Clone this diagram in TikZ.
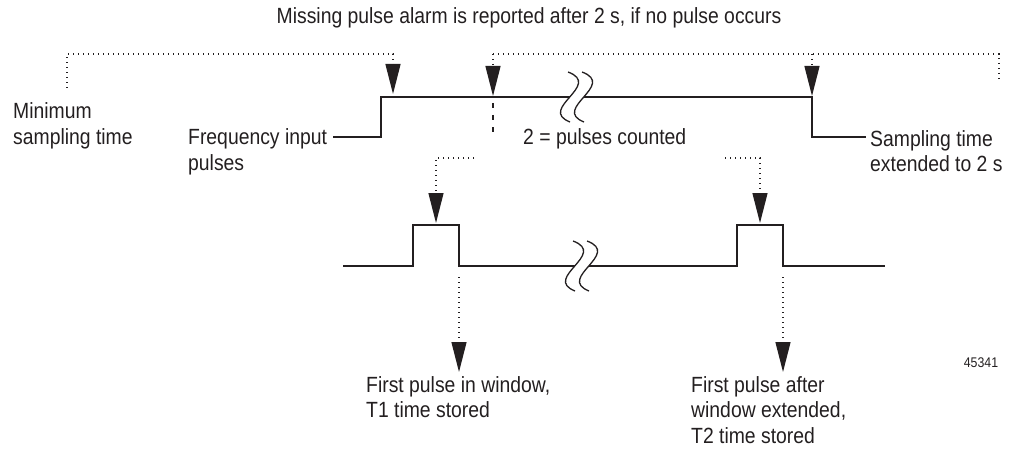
\documentclass[tikz,border=0pt]{standalone}
\usepackage{fontspec}
\setmainfont{Liberation Sans}[FakeStretch=0.88]
\usetikzlibrary{positioning, arrows.meta}
\definecolor{inkgray}{RGB}{35,31,32}

\begin{document}
\begin{tikzpicture}[
  x=1pt, y=-1pt,
  lbl/.style={inner sep=0pt, align=left, anchor=west, text=inkgray,
              font=\fontsize{22}{25.5}\selectfont},
  wave/.style={line width=1.5pt, draw=inkgray},
  hint/.style={line width=1.3pt, draw=inkgray, dash pattern=on 1.3pt off 3.7pt},
  ptr/.style={hint, -{Triangle[length=30pt, width=15pt, fill=inkgray]}},
  gap/.style={line width=1.3pt, draw=inkgray, dash pattern=on 5pt off 7pt},
  breakmark/.pic={
    \fill[white] (-9,-25) .. controls (26,-12) and (-40,12) .. (-7,25)
      -- (7,25) .. controls (-26,12) and (40,-12) .. (5,-25) -- cycle;
    \draw[line width=1.3pt, draw=inkgray]
      (-9,-25) .. controls (26,-12) and (-40,12) .. (-7,25);
    \draw[line width=1.3pt, draw=inkgray]
      (5,-25) .. controls (40,-12) and (-26,12) .. (7,25);
  },
]
  \useasboundingbox (0,0) rectangle (1013,460);

  % traces
  \draw[wave] (333,137) -- (381,137) -- (381,97) -- (812,97) -- (812,137) -- (866,137);
  \draw[wave] (343,266) -- (413,266) -- (413,225) -- (459,225) -- (459,266)
    -- (737,266) -- (737,225) -- (783,225) -- (783,266) -- (885,266);
  \pic at (577,97) {breakmark};
  \pic at (582,266) {breakmark};

  % points the pointers run between
  \coordinate (minA) at (67,88);
  \coordinate (winA) at (393,94);
  \coordinate (cntA) at (493,96);
  \coordinate (cntB) at (493,135);
  \coordinate (extA) at (812,96);
  \coordinate (endA) at (999,80);
  \coordinate (p1src) at (474,158);
  \coordinate (p2src) at (725,158);
  \coordinate (p1in) at (436,223);
  \coordinate (p2in) at (760,223);
  \coordinate (p1out) at (459,277);
  \coordinate (p2out) at (783,277);
  \coordinate (p1tip) at (459,372);
  \coordinate (p2tip) at (783,372);

  % labels
  \node[lbl, anchor=center] (title) at (529,18)
    {Missing pulse alarm is reported after 2 s, if no pulse occurs};
  \node[lbl] (minlbl) at (13,126) {Minimum\\sampling time};
  \node[lbl] (freqlbl) at (188,152) {Frequency input\\pulses};
  \node[lbl] (cntlbl) at (523,139) {2 = pulses counted};
  \node[lbl] (extlbl) at (870,151) {Sampling time\\extended to 2 s};
  \node[lbl] (firstlbl) at (366,397) {First pulse in window,\\T1 time stored};
  \node[lbl] (afterlbl) at (691,410) {First pulse after\\window extended,\\T2 time stored};
  \node[lbl, anchor=center, font=\fontsize{14}{16}\selectfont] (fignum) at (981,363) {45341};

  % pointers
  \draw[ptr] (minA) -- (minA |- 0,54) -| (winA);
  \draw[hint] (cntA |- 0,54) -| (endA);
  \draw[ptr] (cntA |- 0,54) -- (cntA);
  \draw[gap] (cntA) ++(0,7) -- (cntB);
  \draw[ptr] (extA |- 0,54) -- (extA);
  \draw[ptr] (p1src) -| (p1in);
  \draw[ptr] (p2src) -| (p2in);
  \draw[ptr] (p1out) -- (p1tip);
  \draw[ptr] (p2out) -- (p2tip);
\end{tikzpicture}
\end{document}
